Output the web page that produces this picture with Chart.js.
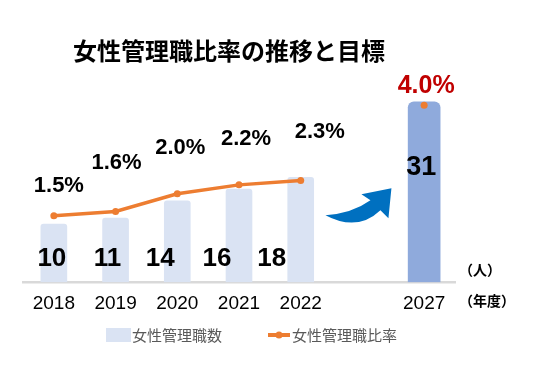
<!DOCTYPE html>
<html>
<head>
<meta charset="utf-8">
<script src="https://cdn.jsdelivr.net/npm/chart.js@4.4.1/dist/chart.umd.min.js"></script>
<style>
  html, body { margin: 0; padding: 0; background: #fff; }
  #wrap { width: 537px; height: 371px; }
</style>
</head>
<body>
<div id="wrap"><canvas id="chart" width="537" height="371"></canvas></div>
<script>
// Data
const years = ['2018', '2019', '2020', '2021', '2022', '', '2027'];
const managerCounts = [10, 11, 14, 16, 18, null, 31];   // 女性管理職数 (人)
const managerRatios = [1.5, 1.6, 2.0, 2.2, 2.3, null, 4.0]; // 女性管理職比率 (%)
const targetIndex = 6;

// label nudges (px) so the labels sit where the reference has them
const countLabelDx = [-2, -8, -17, -22, -29, 0, -3];
const ratioLabelDx = [5, 1, 3, 7, 19, 0, 2];
const ratioLabelDy = [-30, -48, -46, -46, -49, 0, -19];

const actualCounts = managerCounts.map((v, i) => i === targetIndex ? null : v);
const targetCounts = managerCounts.map((v, i) => i === targetIndex ? v : null);

const numFont = '"Liberation Sans", Arial, sans-serif';
const jpFont = '"Noto Sans CJK JP", "Noto Sans", sans-serif';

// Draws title, value labels, arrow, unit notes and legend
const decorPlugin = {
    id: 'decor',
    afterDatasetsDraw(chart) {
        const ctx = chart.ctx;
        const x = chart.scales.x;
        const y = chart.scales.y;
        const barMetaA = chart.getDatasetMeta(0);
        const barMetaB = chart.getDatasetMeta(1);
        const lineMeta = chart.getDatasetMeta(2);
        const base = y.getPixelForValue(0);

        ctx.save();
        ctx.textAlign = 'center';
        ctx.textBaseline = 'middle';

        // bar counts
        ctx.fillStyle = '#000';
        managerCounts.forEach((v, i) => {
            if (v === null) return;
            if (i === targetIndex) {
                const bar = barMetaB.data[i];
                ctx.font = 'bold 27px ' + numFont;
                ctx.fillText(String(v), bar.x + countLabelDx[i], bar.y + 66);
            } else {
                const bar = barMetaA.data[i];
                ctx.font = 'bold 26px ' + numFont;
                ctx.fillText(String(v), bar.x + countLabelDx[i], base - 23);
            }
        });

        // ratio labels
        managerRatios.forEach((v, i) => {
            if (v === null) return;
            const pt = lineMeta.data[i];
            if (i === targetIndex) {
                ctx.font = 'bold 25px ' + numFont;
                ctx.fillStyle = '#C00000';
            } else {
                ctx.font = 'bold 22px ' + numFont;
                ctx.fillStyle = '#000';
            }
            ctx.fillText(v.toFixed(1) + '%', pt.x + ratioLabelDx[i], pt.y + ratioLabelDy[i]);
        });

        // blue arrow in the gap
        const ax = x.getPixelForValue(5);
        const ay = base;
        ctx.fillStyle = '#0070C0';
        ctx.beginPath();
        ctx.moveTo(ax - 37, ay - 67);
        ctx.quadraticCurveTo(ax - 10, ay - 69, ax + 8, ay - 82);
        ctx.lineTo(ax - 1, ay - 88);
        ctx.lineTo(ax + 29, ay - 94);
        ctx.lineTo(ax + 26, ay - 64);
        ctx.lineTo(ax + 18, ay - 72);
        ctx.quadraticCurveTo(ax - 5, ay - 50, ax - 37, ay - 67);
        ctx.closePath();
        ctx.fill();

        // title
        ctx.fillStyle = '#000';
        ctx.font = 'bold 24px ' + jpFont;
        ctx.fillText('女性管理職比率の推移と目標', 229, 51);

        // unit notes
        ctx.textAlign = 'left';
        ctx.font = 'bold 14px ' + jpFont;
        ctx.fillText('（人）', 459, 270);
        ctx.fillText('（年度）', 459, 301);

        // legend
        ctx.font = '15px ' + jpFont;
        ctx.fillStyle = '#DAE3F3';
        ctx.fillRect(106, 328, 25, 14);
        ctx.fillStyle = '#595959';
        ctx.fillText('女性管理職数', 132, 335);
        ctx.strokeStyle = '#ED7D31';
        ctx.lineWidth = 4;
        ctx.beginPath();
        ctx.moveTo(268, 335);
        ctx.lineTo(290, 335);
        ctx.stroke();
        ctx.fillStyle = '#ED7D31';
        ctx.beginPath();
        ctx.arc(279, 335, 3.5, 0, Math.PI * 2);
        ctx.fill();
        ctx.fillStyle = '#595959';
        ctx.fillText('女性管理職比率', 292, 335);
        ctx.restore();
    }
};

const chart = new Chart(document.getElementById('chart').getContext('2d'), {
    type: 'bar',
    data: {
        labels: years,
        datasets: [
            {
                label: '女性管理職数',
                data: actualCounts,
                backgroundColor: '#DAE3F3',
                barThickness: 26,
                grouped: false,
                borderRadius: { topLeft: 3, topRight: 3 },
                borderSkipped: 'bottom',
                order: 2
            },
            {
                label: '目標',
                data: targetCounts,
                backgroundColor: '#8FAADC',
                barThickness: 32,
                grouped: false,
                borderRadius: { topLeft: 6, topRight: 6 },
                borderSkipped: 'bottom',
                order: 2
            },
            {
                type: 'line',
                label: '女性管理職比率',
                data: managerRatios,
                yAxisID: 'y1',
                borderColor: '#ED7D31',
                backgroundColor: '#ED7D31',
                borderWidth: 3.5,
                pointRadius: 3.5,
                pointBackgroundColor: '#ED7D31',
                pointBorderWidth: 0,
                spanGaps: false,
                tension: 0,
                order: 1
            }
        ]
    },
    options: {
        responsive: false,
        animation: false,
        devicePixelRatio: 1,
        layout: {
            padding: { left: 23, right: 82, top: 61, bottom: 54 }
        },
        plugins: {
            legend: { display: false },
            tooltip: { enabled: false },
            title: { display: false }
        },
        scales: {
            x: {
                grid: { display: false },
                border: { color: '#D9D9D9', width: 2.5 },
                ticks: {
                    color: '#000',
                    padding: 2,
                    font: { family: numFont, size: 19 }
                }
            },
            y: { display: false, min: 0, max: 38 },
            y1: { display: false, min: 0, max: 5.0, position: 'right' }
        }
    },
    plugins: [decorPlugin]
});
</script>
</body>
</html>
